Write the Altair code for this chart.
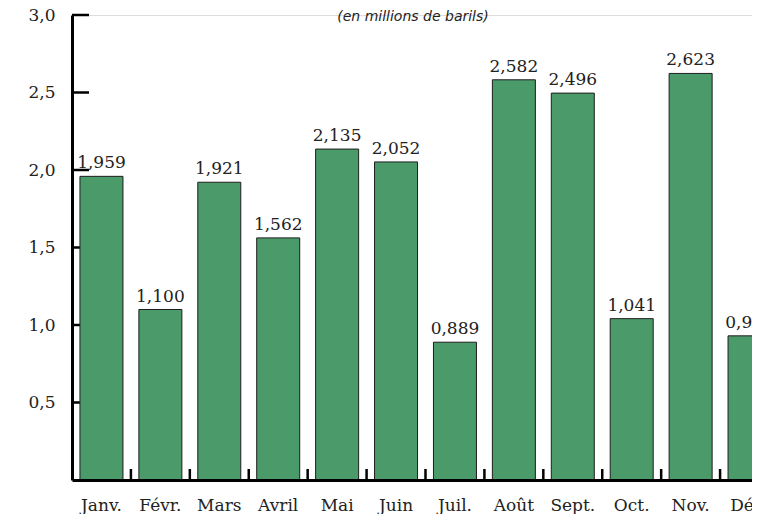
import altair as alt
import pandas as pd

months = ["Janv.", "Févr.", "Mars", "Avril", "Mai", "Juin", "Juil.", "Août", "Sept.", "Oct.", "Nov.", "Déc."]
values = [1.959, 1.100, 1.921, 1.562, 2.135, 2.052, 0.889, 2.582, 2.496, 1.041, 2.623, 0.930]
y_ticks = [0.5, 1.0, 1.5, 2.0, 2.5, 3.0]
title_text = "(en millions de barils)"

df = pd.DataFrame({"month": months, "value": values})

SERIF = "DejaVu Serif"
TXT = "#222222"

x_enc = alt.X(
    "month:N",
    sort=months,
    scale=alt.Scale(range=[0, 707], paddingInner=0.27, paddingOuter=0.135),
    axis=alt.Axis(
        title=None, labelAngle=0, ticks=False, domainWidth=3, domainColor="black",
        labelFont=SERIF, labelFontSize=17, labelColor=TXT, labelPadding=17, zindex=1,
    ),
)
y_enc = alt.Y(
    "value:Q",
    scale=alt.Scale(domain=[0, 3], nice=False),
    axis=alt.Axis(
        title=None, values=y_ticks, ticks=False, grid=False, domainWidth=3, domainColor="black",
        labelExpr="replace(format(datum.value, '.1f'), '.', ',')",
        labelFont=SERIF, labelFontSize=17, labelColor=TXT, labelPadding=17, zindex=1,
    ),
)

yticks = alt.Chart(pd.DataFrame({"value": y_ticks})).mark_rule(color="black", strokeWidth=2.5).encode(
    y="value:Q", x=alt.value(0), x2=alt.value(17)
)

xticks = alt.Chart(df).mark_rule(color="black", strokeWidth=2.5, xOffset=29.45).encode(
    x=x_enc, y=alt.value(454), y2=alt.value(465)
)

bars = alt.Chart(df).mark_bar(color="#4a9a6a", stroke="#1e1e1e", strokeWidth=1).encode(
    x=x_enc, y=y_enc
)

labels = alt.Chart(df).transform_calculate(
    label="replace(format(datum.value, '.3f'), '.', ',')"
).mark_text(font=SERIF, fontSize=17, dy=-8, baseline="alphabetic", color=TXT).encode(
    x=x_enc, y=y_enc, text="label:N"
)

title = alt.Chart(pd.DataFrame({"t": [title_text]})).mark_text(
    font="DejaVu Sans", fontStyle="italic", fontSize=14, color=TXT, align="center", baseline="alphabetic"
).encode(x=alt.value(341), y=alt.value(6), text="t:N")

chart = alt.layer(yticks, xticks, bars, labels, title).properties(
    width=680,
    height=465,
    padding={"left": 64, "top": 7, "right": 0, "bottom": 34},
    autosize=alt.AutoSizeParams(type="none"),
).configure_view(stroke=None).configure(background="white")

chart.save("out.html", embed_options={"renderer": "svg", "actions": False})
